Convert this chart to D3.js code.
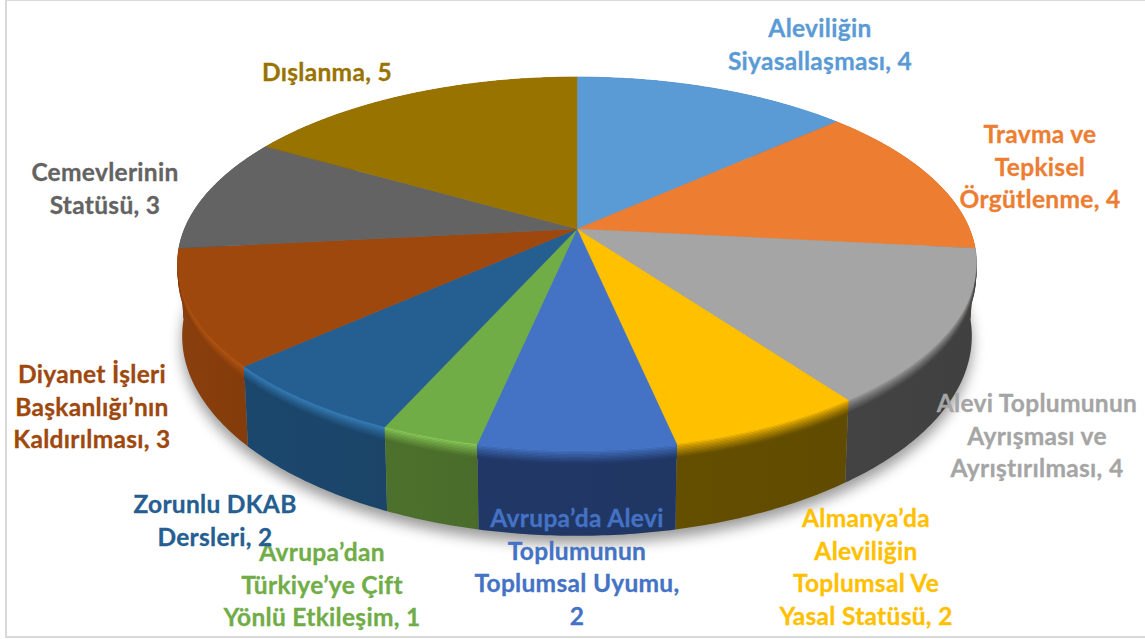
<!DOCTYPE html>
<html>
<head>
<meta charset="utf-8">
<script src="https://cdn.jsdelivr.net/npm/d3@7"></script>
<style>
    html, body { margin: 0; padding: 0; background: #fff; }
    text { font-family: Lato, sans-serif; font-weight: 700; font-size: 24.5px; letter-spacing: 0.3px; text-anchor: middle; stroke-width: 0.3px; }
</style>
</head>
<body>
<div id="chart"></div>
<script>
// clockwise from 12 o'clock, "|" is a line break in the label
var categories = [
    "Aleviliğin|Siyasallaşması",
    "Travma ve|Tepkisel|Örgütlenme",
    "Alevi Toplumunun|Ayrışması ve|Ayrıştırılması",
    "Almanya’da|Aleviliğin|Toplumsal Ve|Yasal Statüsü",
    "Avrupa’da Alevi|Toplumunun|Toplumsal Uyumu",
    "Avrupa’dan|Türkiye’ye Çift|Yönlü Etkileşim",
    "Zorunlu DKAB|Dersleri",
    "Diyanet İşleri|Başkanlığı’nın|Kaldırılması",
    "Cemevlerinin|Statüsü",
    "Dışlanma"
];
var values = [4, 4, 4, 2, 2, 1, 2, 3, 3, 5];

var topColors = ["#5B9BD5", "#ED7D31", "#A5A5A5", "#FFC000", "#4472C4", "#70AD47", "#255E91", "#9E480E", "#636363", "#997300"];
var bevelColors = ["#5B9BD5", "#ED7D31", "#A5A5A5", "#FFC000", "#4A7FD6", "#8FD45C", "#3A86C4", "#BC5A14", "#777777", "#997300"];
var sideColors = ["#375D80", "#8E4B1D", "#404040", "#604B00", "#203663", "#4A6C2B", "#1B4468", "#843C0C", "#3B3B3B", "#5C4500"];

// label anchors: centre x and first baseline
var labelX = [820, 1040, 1037, 866, 577, 322, 215, 92, 105, 327];
var labelY = [37, 143, 412, 527, 527, 561, 513, 383, 181, 81];
var labelLine = 32.7;

var width = 1145, height = 639;

// the disc is a circle seen in perspective, p sets how strong
var p = 0.185;
var top3d = {a: 392.5, b: 180, cy: 229};
var bottom3d = {a: 388, b: 193, cy: 299};
var cx = 577;
var bevelDepth = 0.17, bevelSteps = 10;

function rim(angle, t) {
    var X = Math.sin(angle), Y = Math.cos(angle);
    var a = top3d.a + (bottom3d.a - top3d.a) * t;
    var b = top3d.b + (bottom3d.b - top3d.b) * t;
    var cy = top3d.cy + (bottom3d.cy - top3d.cy) * t;
    var w = 1 + p * Y;
    return [cx + a * X / w, cy - b * Y / w];
}

function arcPoints(start, end, t) {
    return d3.range(0, 1.0001, 1 / Math.max(2, Math.ceil((end - start) * 90))).map(function(k) {
        return rim(start + (end - start) * k, t);
    });
}

var line = d3.line().curve(d3.curveLinear);

var svg = d3.select("#chart").append("svg")
    .attr("width", width)
    .attr("height", height)
    .style("display", "block");

var defs = svg.append("defs");
defs.append("filter").attr("id", "soft")
    .attr("x", "-10%").attr("y", "-10%").attr("width", "120%").attr("height", "120%")
    .append("feGaussianBlur").attr("stdDeviation", 7);

topColors.forEach(function(c, i) {
    var grad = defs.append("linearGradient").attr("id", "side" + i);
    grad.append("stop").attr("offset", "0%").attr("stop-color", d3.color(sideColors[i]).brighter(0.12));
    grad.append("stop").attr("offset", "100%").attr("stop-color", sideColors[i]);
});

svg.append("rect")
    .attr("x", 6).attr("y", 0)
    .attr("width", width).attr("height", 637)
    .attr("fill", "#fff")
    .attr("stroke", "#D9D9D9")
    .attr("stroke-width", 2);

var pie = d3.pie().sort(null).value(function(d) { return d; });
var slices = pie(values);
slices.forEach(function(d, i) { d.i = i; });

// shadow under the disc
svg.append("path")
    .attr("d", line(arcPoints(0, 2 * Math.PI, 1)) + "Z")
    .attr("transform", "translate(0,8)")
    .attr("fill", "#000")
    .attr("opacity", 0.4)
    .attr("filter", "url(#soft)");

// rim, back slices first
var backToFront = slices.slice().sort(function(a, b) {
    return Math.cos((a.startAngle + a.endAngle) / 2) < Math.cos((b.startAngle + b.endAngle) / 2) ? 1 : -1;
});

var sides = svg.append("g");
backToFront.forEach(function(d) {
    sides.append("path")
        .attr("d", line(arcPoints(d.startAngle, d.endAngle, 0).concat(arcPoints(d.startAngle, d.endAngle, 1).reverse())) + "Z")
        .attr("fill", "url(#side" + d.i + ")");

    var shade = d3.interpolateRgb(bevelColors[d.i], sideColors[d.i]);
    d3.range(bevelSteps).forEach(function(k) {
        var t0 = bevelDepth * k / bevelSteps;
        var t1 = bevelDepth * (k + 1) / bevelSteps;
        var c = shade(Math.pow((k + 0.5) / bevelSteps, 0.8));
        sides.append("path")
            .attr("d", line(arcPoints(d.startAngle, d.endAngle, t0).concat(arcPoints(d.startAngle, d.endAngle, t1).reverse())) + "Z")
            .attr("fill", c)
            .attr("stroke", c)
            .attr("stroke-width", 0.5);
    });
});

// flat top
svg.append("g").selectAll("path")
    .data(slices)
    .enter()
    .append("path")
    .attr("d", function(d) {
        return line([[cx, top3d.cy]].concat(arcPoints(d.startAngle, d.endAngle, 0))) + "Z";
    })
    .attr("fill", function(d) { return topColors[d.i]; })
    .attr("stroke", function(d) { return topColors[d.i]; })
    .attr("stroke-width", 0.4);

// labels
var labels = svg.append("g").selectAll("text")
    .data(categories)
    .enter()
    .append("text")
    .attr("fill", function(d, i) { return topColors[i]; })
    .attr("stroke", function(d, i) { return topColors[i]; })
    .attr("transform", function(d, i) { return "translate(" + labelX[i] + "," + labelY[i] + ")"; });

labels.selectAll("tspan")
    .data(function(d, i) {
        // this one label wraps its value onto a line of its own
        var sep = i === 4 ? ",|" : ", ";
        return (d + sep + values[i]).split("|");
    })
    .enter()
    .append("tspan")
    .attr("x", 0)
    .attr("y", function(d, i) { return i * labelLine; })
    .text(function(d) { return d; });
</script>
</body>
</html>
